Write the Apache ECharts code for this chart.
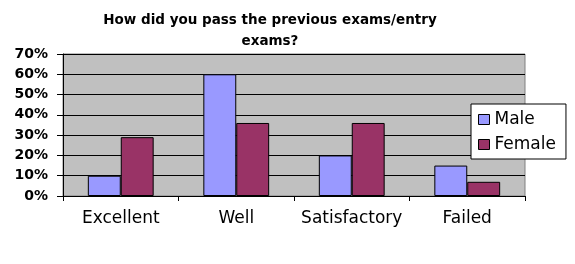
<!DOCTYPE html>
<html><head><meta charset="utf-8">
<script src="https://cdn.jsdelivr.net/npm/echarts@6/dist/echarts.min.js"></script>
<style>html,body{margin:0;padding:0;background:#fff}#c{width:575px;height:264px}</style>
</head><body><div id="c"></div>
<script>
const categories = ['Excellent', 'Well', 'Satisfactory', 'Failed'];
const maleValues = [0.10, 0.60, 0.20, 0.15];
const femaleValues = [0.29, 0.36, 0.36, 0.07];
const yTicks = [0, 0.1, 0.2, 0.3, 0.4, 0.5, 0.6, 0.7];

const chart = echarts.init(document.getElementById('c'));
chart.setOption({
  animation: false,
  backgroundColor: '#ffffff',
  textStyle: { fontFamily: 'DejaVu Sans' },
  title: {
    text: 'How did you pass the previous exams/entry\nexams?',
    left: 265, textAlign: 'center', top: 5,
    textStyle: { fontFamily: 'DejaVu Sans', fontWeight: 'bold', fontSize: 13.5, lineHeight: 21, color: '#000' }
  },
  grid: { left: 63, right: 50, top: 54, bottom: 68, show: true, backgroundColor: '#C0C0C0', borderColor: '#808080', borderWidth: 1 },
  legend: {
    orient: 'vertical', left: 471, top: 104,
    data: ['Male', 'Female'],
    icon: 'rect',
    backgroundColor: '#fff', borderColor: '#000', borderWidth: 1,
    padding: [7, 10, 6, 7], itemGap: 8,
    itemWidth: 11, itemHeight: 10,
    textStyle: { fontFamily: 'DejaVu Sans', fontSize: 17, color: '#000' },
    itemStyle: { borderColor: '#000', borderWidth: 1 }
  },
  xAxis: {
    type: 'category', data: categories,
    axisLine: { lineStyle: { color: '#000', width: 1 } },
    axisTick: { show: true, length: 5, lineStyle: { color: '#000' } },
    axisLabel: { interval: 0, fontFamily: 'DejaVu Sans', fontSize: 17, color: '#000', margin: 14 }
  },
  yAxis: {
    type: 'value', min: 0, max: 0.7, interval: 0.1,
    axisLine: { show: true, lineStyle: { color: '#000' } },
    axisTick: { show: true, length: 6, lineStyle: { color: '#000' } },
    splitLine: { lineStyle: { color: '#000', width: 1 } },
    axisLabel: {
      fontFamily: 'DejaVu Sans', fontWeight: 'bold', fontSize: 14, color: '#000', margin: 15,
      formatter: v => { const t = yTicks.find(x => Math.abs(x - v) < 1e-9); return Math.round((t ?? v) * 100) + '%'; }
    }
  },
  series: [
    { name: 'Male', type: 'bar', data: maleValues, barGap: '0%', barCategoryGap: '43%',
      itemStyle: { color: '#9999FF', borderColor: '#000', borderWidth: 1, borderRadius: 0 } },
    { name: 'Female', type: 'bar', data: femaleValues,
      itemStyle: { color: '#993366', borderColor: '#000', borderWidth: 1, borderRadius: 0 } }
  ]
});
</script></body></html>
